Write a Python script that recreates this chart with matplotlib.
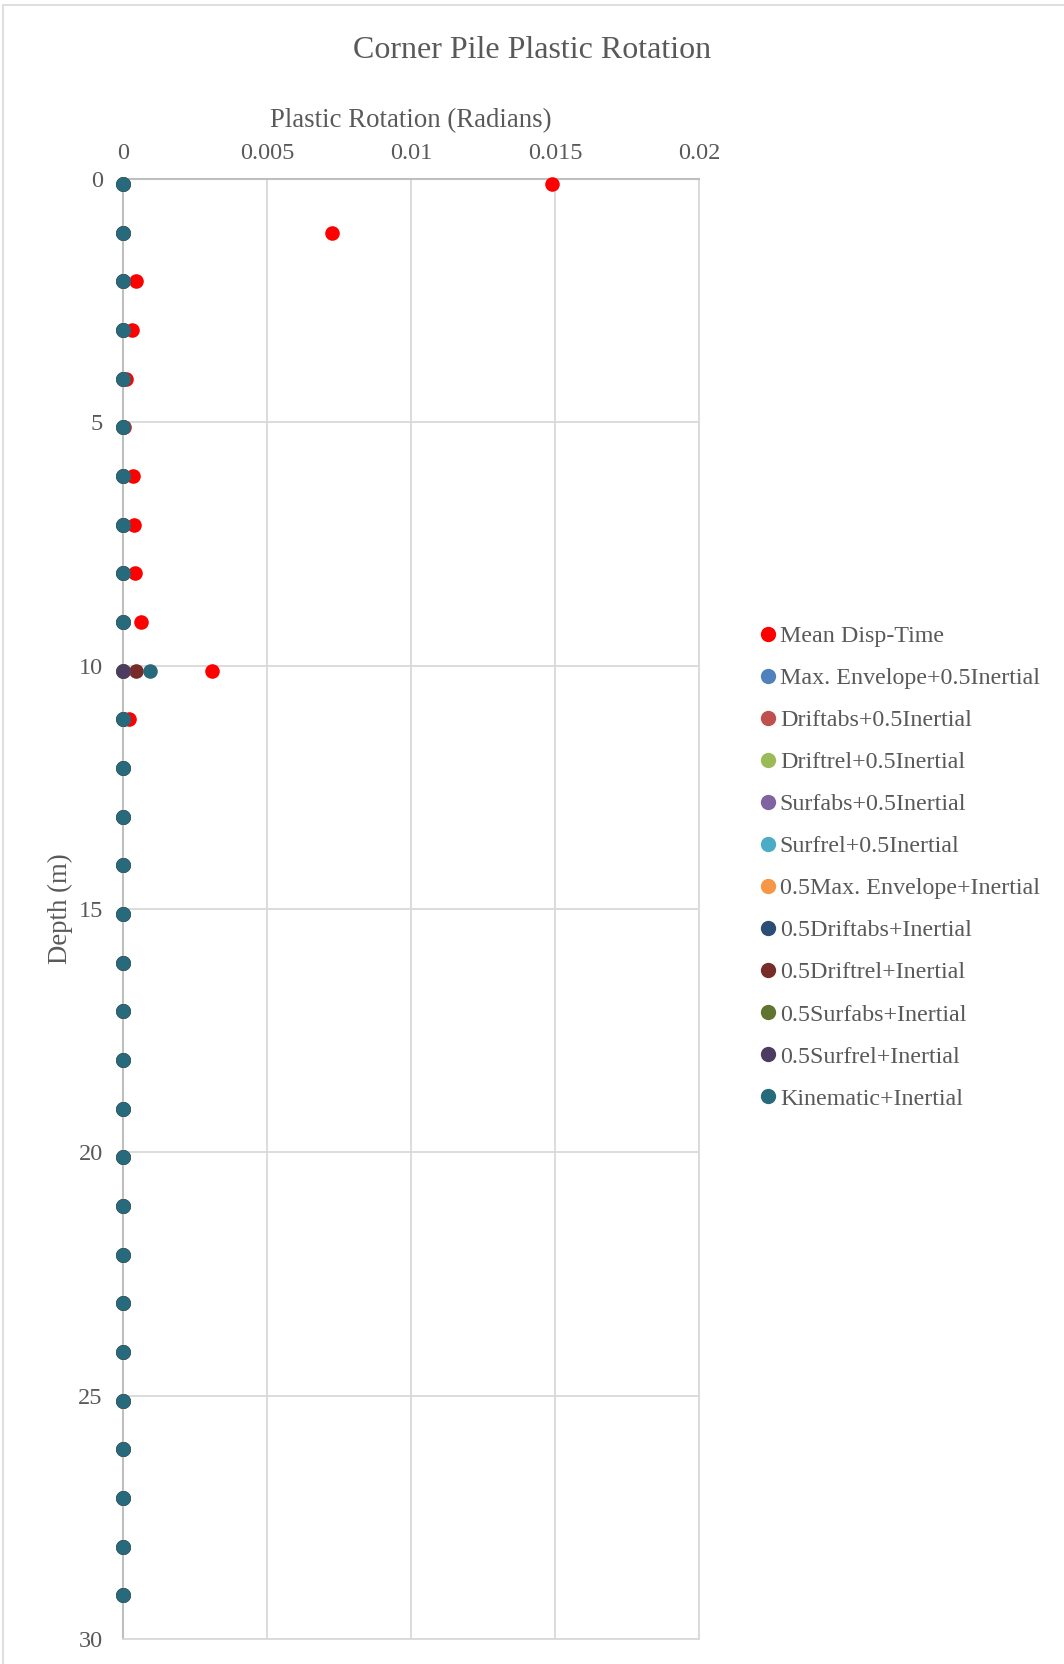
import matplotlib.pyplot as plt
from matplotlib.patches import Rectangle

# depth of each output point (m)
depth = [0.1, 1.1, 2.1, 3.1, 4.1, 5.1, 6.1, 7.1, 8.1, 9.1,
         10.1, 11.1, 12.1, 13.1, 14.1, 15.1, 16.1, 17.1, 18.1, 19.1,
         20.1, 21.1, 22.1, 23.1, 24.1, 25.1, 26.1, 27.1, 28.1, 29.1]

zeros = [0.0] * 30

mean_disp_time = [0.0149, 0.00726, 0.00044, 0.0003, 0.0001, 0.00003, 0.00033, 0.00037, 0.0004, 0.00063,
                  0.0031, 0.00022, 0, 0, 0, 0, 0, 0, 0, 0,
                  0, 0, 0, 0, 0, 0, 0, 0, 0, 0]
half_driftrel = [0, 0, 0, 0, 0, 0, 0, 0, 0, 0,
                 0.00045, 0, 0, 0, 0, 0, 0, 0, 0, 0,
                 0, 0, 0, 0, 0, 0, 0, 0, 0, 0]
kinematic = [0, 0, 0, 0, 0, 0, 0, 0, 0, 0,
             0.00093, 0, 0, 0, 0, 0, 0, 0, 0, 0,
             0, 0, 0, 0, 0, 0, 0, 0, 0, 0]

series = [
    ('Mean Disp-Time', mean_disp_time, '#FF0000'),
    ('Max. Envelope+0.5Inertial', zeros, '#4F81BD'),
    ('Driftabs+0.5Inertial', zeros, '#C0504D'),
    ('Driftrel+0.5Inertial', zeros, '#9BBB59'),
    ('Surfabs+0.5Inertial', zeros, '#8064A2'),
    ('Surfrel+0.5Inertial', zeros, '#4BACC6'),
    ('0.5Max. Envelope+Inertial', zeros, '#F79646'),
    ('0.5Driftabs+Inertial', zeros, '#2C4D75'),
    ('0.5Driftrel+Inertial', half_driftrel, '#772C2A'),
    ('0.5Surfabs+Inertial', zeros, '#5F7530'),
    ('0.5Surfrel+Inertial', zeros, '#4D3B62'),
    ('Kinematic+Inertial', kinematic, '#276A7C'),
]

plt.rcParams['font.family'] = ['Liberation Serif', 'DejaVu Serif']
txt = '#595959'

fig = plt.figure(figsize=(10.64, 16.64), dpi=100)
fig.patches.append(Rectangle((3 / 1064, -0.01), 1.1, 1 - 5 / 1664 + 0.01, transform=fig.transFigure,
                             fill=False, edgecolor='#d9d9d9', linewidth=1.2))
ax = fig.add_axes([0.1156, 0.015, 0.5414, 0.8774])

for name, vals, col in series:
    ax.plot(vals, depth, linestyle='none', marker='o', markersize=10.5, color=col,
            markeredgewidth=0, label=name, zorder=3, clip_on=False)

ax.set_xlim(0, 0.02)
ax.set_ylim(30, 0)
ax.set_xticks([0, 0.005, 0.01, 0.015, 0.02])
ax.set_xticklabels(['0', '0.005', '0.01', '0.015', '0.02'])
ax.set_yticks([0, 5, 10, 15, 20, 25, 30])
ax.xaxis.tick_top()
ax.xaxis.set_label_position('top')
ax.tick_params(length=0, labelsize=17.5, colors=txt)
ax.tick_params(axis='x', pad=10.5)
ax.tick_params(axis='y', pad=14.5)
ax.grid(True, color='#d9d9d9', linewidth=1.3)
ax.set_axisbelow(True)
for s in ['right', 'bottom']:
    ax.spines[s].set_color('#d9d9d9')
    ax.spines[s].set_linewidth(1.3)
for s in ['left', 'top']:
    ax.spines[s].set_color('#bfbfbf')
    ax.spines[s].set_linewidth(1.5)

ax.set_xlabel('Plastic Rotation (Radians)', fontsize=19.3, color=txt, labelpad=12)
ax.set_ylabel('Depth (m)', fontsize=19.3, color=txt, labelpad=4)
fig.text(0.5, 1 - 50 / 1664, 'Corner Pile Plastic Rotation', fontsize=23, color=txt,
         ha='center', va='center')

leg = ax.legend(loc='upper left', bbox_to_anchor=(0.69, 0.637), bbox_transform=fig.transFigure,
                frameon=False, fontsize=17.3, labelspacing=0.84, handletextpad=0.0,
                handlelength=1.0, markerscale=1.05)
for t in leg.get_texts():
    t.set_color(txt)

fig.savefig('out.png', dpi=100)
